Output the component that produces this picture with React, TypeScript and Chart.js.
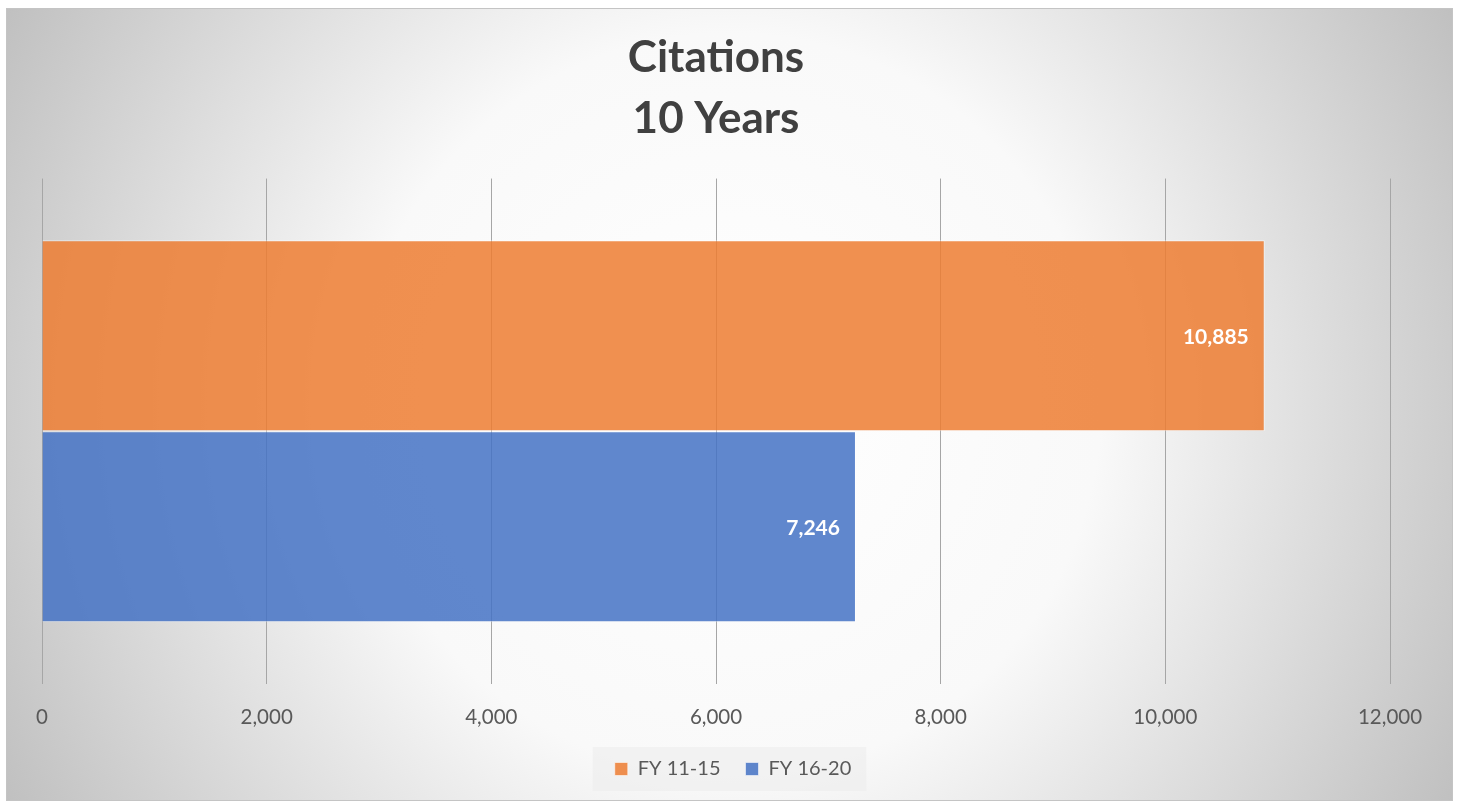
import React, { useEffect, useRef } from "react";
import { Chart, registerables } from "chart.js";

Chart.register(...registerables);

const categories = [""];
const seriesNames = ["FY 11-15", "FY 16-20"];
const fy1115 = [10885];
const fy1620 = [7246];
const titleLines = ["Citations", "10 Years"];
const xMax = 12000;
const xStep = 2000;

const FONT = "Lato, 'Open Sans', sans-serif";

const legendShiftPlugin = {
  id: "legendShift",
  afterLayout(chart: any) {
    const lg = chart.legend;
    if (lg) {
      lg.left += 17;
      lg.right += 17;
    }
  },
};

const bgPlugin = {
  id: "bgPlugin",
  beforeDraw(chart: any) {
    const { ctx, width, height } = chart;
    ctx.save();
    const cx = width * 0.5;
    const cy = height * 0.5;
    const r = Math.sqrt(cx * cx + cy * cy);
    const g = ctx.createRadialGradient(cx, cy, 0, cx, cy, r);
    g.addColorStop(0, "#ffffff");
    g.addColorStop(0.45, "#f9f9f9");
    g.addColorStop(1, "#c0c0c0");
    ctx.fillStyle = g;
    ctx.fillRect(0, 0, width, height);
    ctx.strokeStyle = "#c4c4c4";
    ctx.lineWidth = 1;
    ctx.strokeRect(0.5, 0.5, width - 1, height - 1);
    const lg = chart.legend;
    if (lg && lg.legendHitBoxes && lg.legendHitBoxes.length) {
      const hb = lg.legendHitBoxes;
      let minX = Infinity, maxX = -Infinity, minY = Infinity, maxY = -Infinity;
      hb.forEach((b: any) => {
        minX = Math.min(minX, b.left);
        maxX = Math.max(maxX, b.left + b.width);
        minY = Math.min(minY, b.top);
        maxY = Math.max(maxY, b.top + b.height);
      });
      const cyL = (minY + maxY) / 2;
      ctx.fillStyle = "rgba(236,236,236,0.6)";
      ctx.fillRect(minX - 22, cyL - 22, maxX - minX + 37, 44);
    }
    ctx.restore();
  },
};

const labelPlugin = {
  id: "labelPlugin",
  afterDatasetsDraw(chart: any) {
    const { ctx } = chart;
    ctx.save();
    ctx.font = `bold 21px ${FONT}`;
    ctx.fillStyle = "#ffffff";
    ctx.textAlign = "right";
    ctx.textBaseline = "middle";
    chart.data.datasets.forEach((ds: any, i: number) => {
      const meta = chart.getDatasetMeta(i);
      meta.data.forEach((el: any, j: number) => {
        const v = ds.data[j];
        ctx.fillText(v.toLocaleString("en-US"), el.x - 16, el.y + 1);
      });
    });
    ctx.restore();
  },
};

export default function App() {
  const ref = useRef<HTMLCanvasElement | null>(null);
  useEffect(() => {
    if (!ref.current) return;
    const chart = new Chart(ref.current, {
      type: "bar",
      data: {
        labels: categories,
        datasets: [
          {
            label: seriesNames[0],
            data: fy1115,
            backgroundColor: "rgba(237,125,49,0.85)",
            borderColor: "rgba(255,255,255,0.55)",
            borderWidth: 1,
          },
          {
            label: seriesNames[1],
            data: fy1620,
            backgroundColor: "rgba(68,114,196,0.85)",
            borderColor: "rgba(255,255,255,0.55)",
            borderWidth: 1,
          },
        ],
      },
      options: {
        indexAxis: "y",
        animation: false,
        responsive: true,
        maintainAspectRatio: false,
        categoryPercentage: 0.756,
        barPercentage: 1,
        layout: { padding: { left: 36, right: 63, top: 0, bottom: 12 } },
        scales: {
          x: {
            min: 0,
            max: xMax,
            afterFit: (s: any) => {
              s.height = 50;
            },
            ticks: {
              stepSize: xStep,
              color: "#595959",
              font: { family: FONT, size: 20.5 },
              padding: 21,
              callback: (v: any) => Number(v).toLocaleString("en-US"),
            },
            grid: { color: "#a6a6a6", drawTicks: false },
            border: { display: false },
          },
          y: {
            display: false,
            grid: { display: false },
          },
        },
        plugins: {
          title: {
            display: true,
            text: titleLines,
            color: "#404040",
            font: { family: FONT, size: 44, weight: "bold", lineHeight: 1.37 },
            padding: { top: 20, bottom: 30 },
          },
          legend: {
            position: "bottom",
            labels: {
              color: "#595959",
              font: { family: FONT, size: 20 },
              boxWidth: 13,
              boxHeight: 13,
              padding: 25,
            },
          },
          tooltip: { enabled: false },
        },
      },
      plugins: [legendShiftPlugin, bgPlugin, labelPlugin],
    } as any);
    return () => chart.destroy();
  }, []);
  return (
    <div style={{ position: "absolute", left: 6, top: 8, width: 1447, height: 793 }}>
      <canvas ref={ref} />
    </div>
  );
}
